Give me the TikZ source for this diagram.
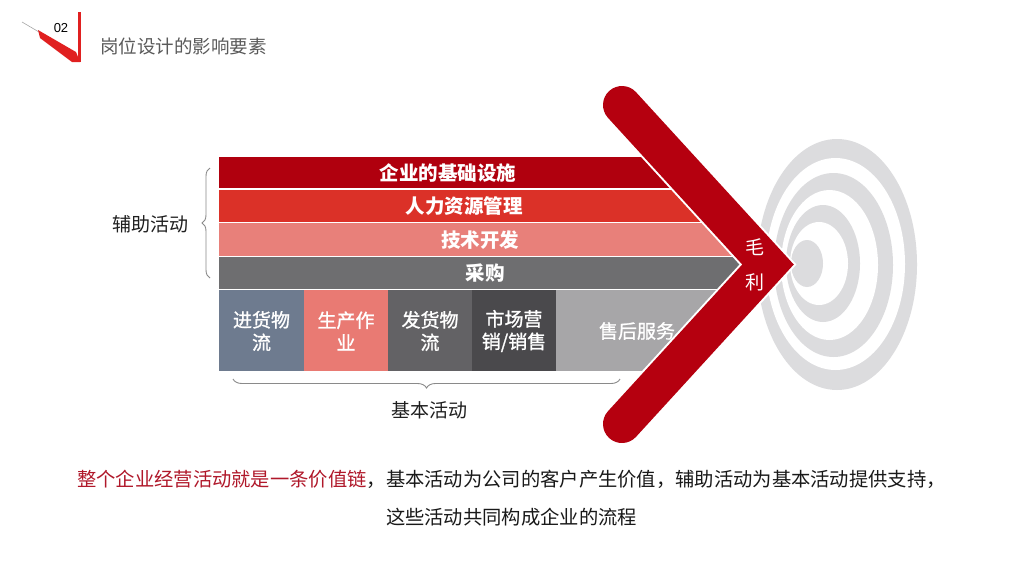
\documentclass[tikz,border=0pt]{standalone}
\usepackage{fontspec}
\setmainfont{Noto Sans CJK SC}
\newfontfamily\medfont[FakeBold=1.2]{Noto Sans CJK SC}
\newfontfamily\latinfont{Liberation Sans}
\usetikzlibrary{decorations.pathreplacing}
\definecolor{chev}{HTML}{B5000F}
\definecolor{barA}{HTML}{B0000E}
\definecolor{barB}{HTML}{DB3128}
\definecolor{barC}{HTML}{E8807A}
\definecolor{barD}{HTML}{6E6E70}
\definecolor{colA}{HTML}{6E7B8F}
\definecolor{colB}{HTML}{E97A73}
\definecolor{colC}{HTML}{636265}
\definecolor{colD}{HTML}{4A494C}
\definecolor{colE}{HTML}{A7A6A8}
\definecolor{ring}{HTML}{DCDCDE}
\definecolor{titlegray}{HTML}{5A5A5A}
\definecolor{accent}{HTML}{B0182A}
\definecolor{bracegray}{HTML}{8A8A8A}
\definecolor{deco}{HTML}{E02020}
\tikzset{
  bartxt/.style={text=white, inner sep=0, font=\fontsize{19.5}{23}\selectfont\bfseries},
  coltxt/.style={text=white, inner sep=0, align=center, font=\medfont\fontsize{19}{22.5}\selectfont},
  lbl/.style={text=black!88, inner sep=0, font=\fontsize{19}{23}\selectfont},
  bodytxt/.style={text=black!90, inner sep=0, font=\fontsize{19.3}{23}\selectfont},
  bracestyle/.style={draw=bracegray, line width=0.9, decorate},
  sep/.style={draw=white, line width=1.3}
}
\begin{document}
\begin{tikzpicture}[x=1pt,y=-1pt]
\useasboundingbox[fill=white] (0,0) rectangle (1024,576);

% header decoration
\draw[gray!70, line width=0.6] (22,22) -- (39,32);
\fill[deco] (38,30) -- (76,52) -- (80,62) -- (72,62) -- (40,38) -- cycle;
\draw[deco, line width=3] (79,12) -- (79,62);
\node[inner sep=0, font=\latinfont\fontsize{13}{15}\selectfont] (num) at (61,28) {02};
\node[anchor=west, inner sep=0, text=titlegray, font=\fontsize{18.5}{22}\selectfont] (title) at (100,46) {岗位设计的影响要素};

% target rings
\fill[ring] (837,264.5) ellipse [x radius=80, y radius=125.5];
\fill[white] (835.5,264) ellipse [x radius=69.5, y radius=106];
\fill[ring] (833.5,265) ellipse [x radius=59.5, y radius=92];
\fill[white] (829.5,265) ellipse [x radius=48.5, y radius=75];
\fill[ring] (823,263.5) ellipse [x radius=37, y radius=58.5];
\fill[white] (819,263.5) ellipse [x radius=29, y radius=41.5];
\fill[ring] (807,263.5) ellipse [x radius=16, y radius=23.5];

% bars clipped by chevron centre line
\begin{scope}
\clip (0,9) -- (534.4,9.3) -- (768,264.5) -- (534.4,519.7) -- (0,520) -- cycle;
\fill[barA] (219,157) rectangle (800,189);
\fill[barB] (219,189) rectangle (800,222.5);
\fill[barC] (219,222.5) rectangle (800,256.5);
\fill[barD] (219,256.5) rectangle (800,289.5);
\fill[colA] (219,289.5) rectangle (304,371);
\fill[colB] (304,289.5) rectangle (388,371);
\fill[colC] (388,289.5) rectangle (472,371);
\fill[colD] (472,289.5) rectangle (556,371);
\fill[colE] (556,289.5) rectangle (800,371);
\draw[sep] (219,189) -- (800,189);
\draw[sep] (219,222.5) -- (800,222.5);
\draw[sep] (219,256.5) -- (800,256.5);
\draw[sep] (219,289.5) -- (800,289.5);
\end{scope}

% chevron
\coordinate (ctop) at (622,105);
\coordinate (capex) at (768,264.5);
\coordinate (cbot) at (622,424);
\draw[white, line width=42, line cap=round, line join=miter] (ctop) -- (capex) -- (cbot);
\draw[chev, line width=38, line cap=round, line join=miter] (ctop) -- (capex) -- (cbot);

% bar texts
\node[bartxt] (t1) at (448,173) {企业的基础设施};
\node[bartxt] (t2) at (464,206) {人力资源管理};
\node[bartxt] (t3) at (480,240) {技术开发};
\node[bartxt] (t4) at (485,273) {采购};
\node[coltxt] (c1) at (261.5,331) {进货物\\流};
\node[coltxt] (c2) at (346,331) {生产作\\业};
\node[coltxt] (c3) at (430,331) {发货物\\流};
\node[coltxt] (c4) at (514,331) {市场营\\销/销售};
\node[coltxt] (c5) at (637,331) {售后服务};
\node[text=white, inner sep=0, align=center, font=\fontsize{19}{35}\selectfont] (ml) at (755,264.5) {毛\\利};

% braces and labels
\draw[bracestyle, decoration={brace, amplitude=8}] (210,278) -- (210,168);
\node[lbl] (fz) at (150,224) {辅助活动};
\draw[bracestyle, decoration={brace, amplitude=9}] (620,379) -- (233,379);
\node[lbl] (jb) at (429,410) {基本活动};

% bottom text
\node[bodytxt] (b1) at (511.5,479) {\textcolor{accent}{整个企业经营活动就是一条价值链}，基本活动为公司的客户产生价值，辅助活动为基本活动提供支持，};
\node[bodytxt] (b2) at (511.5,517) {这些活动共同构成企业的流程};
\end{tikzpicture}
\end{document}
